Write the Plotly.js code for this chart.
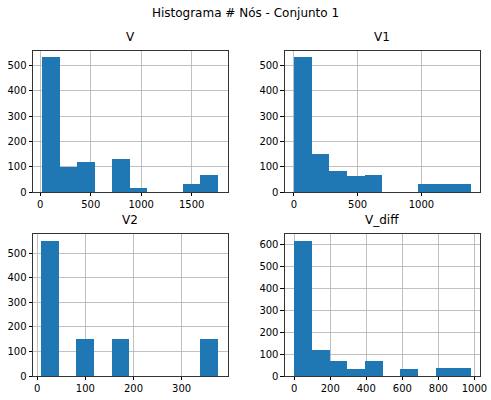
<!DOCTYPE html>
<html>
<head>
<meta charset="utf-8">
<script src="https://cdn.plot.ly/plotly-3.0.1.min.js"></script>
<style>body{margin:0;background:#fff}</style>
</head>
<body>
<div id="chart" style="width:491px;height:400px"></div>
<script>
// histogram bins: [first edge, last edge] and counts for 10 bins
var vRange = [17, 1758];
var vCounts = [535, 100, 120, 0, 132, 17, 0, 0, 33, 68];
var v1Range = [0, 1390];
var v1Counts = [535, 152, 85, 65, 68, 0, 0, 33, 33, 33];
var v2Range = [8, 375];
var v2Counts = [550, 0, 150, 0, 150, 0, 0, 0, 0, 150];
var vdRange = [0, 981];
var vdCounts = [615, 118, 70, 33, 70, 0, 33, 0, 37, 37];
var names = ['V', 'V1', 'V2', 'V_diff'];

function histTrace(range, counts, xa, ya){
    var w = (range[1] - range[0]) / counts.length;
    var xs = counts.map((c, i) => range[0] + w * (i + 0.5));
    return {
        type:'bar', x:xs, y:counts, width:w,
        xaxis:xa, yaxis:ya,
        marker:{color:'#1f77b4', line:{width:0}},
        hoverinfo:'skip'
    };
}

var traces = [
    histTrace(vRange, vCounts, 'x', 'y'),
    histTrace(v1Range, v1Counts, 'x2', 'y2'),
    histTrace(v2Range, v2Counts, 'x3', 'y3'),
    histTrace(vdRange, vdCounts, 'x4', 'y4')
];

function ax(domain, range, dtick, anchor){
    return {
        domain:domain, range:range, dtick:dtick, anchor:anchor,
        showgrid:true, gridcolor:'#b0b0b0', gridwidth:0.8,
        showline:true, linecolor:'#000', linewidth:0.8, mirror:true,
        ticks:'outside', ticklen:3.5, tickcolor:'#000',
        zeroline:false, tickfont:{size:10, color:'#000'}
    };
}

var xd1 = [0.067, 0.464], xd2 = [0.580, 0.978];
var yd1 = [0.52, 0.8725], yd2 = [0.06, 0.415];

var layout = {
    width:491, height:400,
    margin:{l:0, r:0, t:0, b:0},
    showlegend:false, bargap:0,
    paper_bgcolor:'#fff', plot_bgcolor:'#fff',
    font:{family:'DejaVu Sans', color:'#000'},
    title:{text:'Histograma # Nós - Conjunto 1', x:0.5, xanchor:'center', y:0.967, yanchor:'middle', font:{size:12}},
    xaxis:ax(xd1, [-73, 1858], 500, 'y'),
    yaxis:ax(yd1, [0, 558], 100, 'x'),
    xaxis2:ax(xd2, [-71, 1461], 500, 'y2'),
    yaxis2:ax(yd1, [0, 558], 100, 'x2'),
    xaxis3:ax(xd1, [-9, 396], 100, 'y3'),
    yaxis3:ax(yd2, [0, 579], 100, 'x3'),
    xaxis4:ax(xd2, [-52, 1032], 200, 'y4'),
    yaxis4:ax(yd2, [0, 646], 100, 'x4'),
    annotations:[
        [xd1, yd1], [xd2, yd1], [xd1, yd2], [xd2, yd2]
    ].map((d, i) => ({
        text:names[i], xref:'paper', yref:'paper',
        x:(d[0][0] + d[0][1]) / 2, y:d[1][1] + 0.012,
        xanchor:'center', yanchor:'bottom', showarrow:false,
        font:{size:12, color:'#000'}
    }))
};

Plotly.newPlot('chart', traces, layout, {displayModeBar:false, staticPlot:true});
</script>
</body>
</html>
